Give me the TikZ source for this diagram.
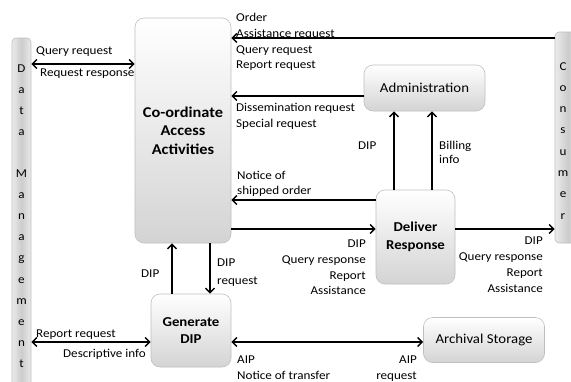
\documentclass[tikz,border=0pt]{standalone}
\usepackage{fontspec}
\setmainfont{Carlito}[FakeStretch=1.09]
\usetikzlibrary{arrows.meta}
\tikzset{
  box/.style={draw=black!25, line width=0.6pt, rounded corners=9pt, inner sep=0pt,
    top color=white, bottom color=black!17, align=center, font=\fontsize{13.6}{18}\selectfont},
  bar/.style={draw=black!25, line width=0.6pt, rounded corners=4pt, inner sep=0pt,
    left color=black!8, right color=black!8, middle color=black!20},
  arr/.style={line width=1.4pt, -{Straight Barb[length=4.5pt,width=9pt]}},
  darr/.style={line width=1.4pt, {Straight Barb[length=4.5pt,width=9pt]}-{Straight Barb[length=4.5pt,width=9pt]}},
  lab/.style={inner sep=0pt, font=\fontsize{12}{15}\selectfont},
}
\begin{document}
\begin{tikzpicture}[x=1pt,y=-1pt]
\clip (0,0) rectangle (571,381);
\useasboundingbox (0,0) rectangle (571,381);
% bars
\node[bar, minimum width=19pt, minimum height=357pt] (data) at (21.5,216.5) {};
\node[bar, minimum width=26pt, minimum height=211pt] (cons) at (568,137.5) {};
\foreach \l [count=\i] in {D,a,t,a,{},M,a,n,a,g,e,m,e,n,t}
  \node[lab, anchor=base] (dl\i) at (21.5,{72+21.1*(\i-1)}) {\l};
\foreach \l [count=\i] in {C,o,n,s,u,m,e,r}
  \node[lab, anchor=base] (cl\i) at (563,{70+21.3*(\i-1)}) {\l};
% boxes
\node[box, minimum width=96pt, minimum height=225pt, font=\fontsize{15}{18.5}\selectfont\bfseries] (caa) at (183,130.5) {Co-ordinate\\Access\\Activities};
\node[box, minimum width=121pt, minimum height=46pt] (admin) at (424.5,88) {Administration};
\node[box, minimum width=79pt, minimum height=94pt, font=\fontsize{13.6}{18}\selectfont\bfseries] (deliver) at (415.5,237) {Deliver\\Response};
\node[box, minimum width=80pt, minimum height=73pt, font=\fontsize{13.6}{17.5}\selectfont\bfseries] (gen) at (191,330.5) {Generate\\DIP};
\node[box, minimum width=121pt, minimum height=45pt] (arch) at (484,340) {Archival Storage};
% levels
\coordinate (ya) at (0,38);
\coordinate (yb) at (0,96);
\coordinate (yc) at (0,64);
\coordinate (yd) at (0,200);
\coordinate (ye) at (0,229);
\coordinate (yf) at (0,342);
\coordinate (xa) at (394,0);
\coordinate (xb) at (432,0);
\coordinate (xc) at (172,0);
\coordinate (xd) at (210,0);
% connectors
\draw[arr] (cons.west |- ya) -- (caa.east |- ya);
\draw[arr] (admin.west |- yb) -- (caa.east |- yb);
\draw[darr] (data.east |- yc) -- (caa.west |- yc);
\draw[arr] (deliver.west |- yd) -- (caa.east |- yd);
\draw[arr] (caa.east |- ye) -- (deliver.west |- ye);
\draw[arr] (deliver.east |- ye) -- (cons.west |- ye);
\draw[arr] (deliver.north -| xa) -- (admin.south -| xa);
\draw[arr] (deliver.north -| xb) -- (admin.south -| xb);
\draw[arr] (gen.north -| xc) -- (caa.south -| xc);
\draw[arr] (caa.south -| xd) -- (gen.north -| xd);
\draw[darr] (data.east |- yf) -- (gen.west |- yf);
\draw[darr] (gen.east |- yf) -- (arch.west |- yf);
% labels
\node[lab, anchor=base west] (l1) at (236,21) {Order};
\node[lab, anchor=base west] (l2) at (236,37) {Assistance request};
\node[lab, anchor=base west] (l3) at (236,53) {Query request};
\node[lab, anchor=base west] (l4) at (236,68) {Report request};
\node[lab, anchor=base west] (l5) at (236,111) {Dissemination request};
\node[lab, anchor=base west] (l6) at (236,127) {Special request};
\node[lab, anchor=base west] (l7) at (36,54) {Query request};
\node[lab, anchor=base west] (l8) at (40,76) {Request response};
\node[lab, anchor=base west] (l9) at (358,149) {DIP};
\node[lab, anchor=base west] (l10) at (439,149) {Billing};
\node[lab, anchor=base west] (l11) at (439,163) {info};
\node[lab, anchor=base west] (l12) at (237,179) {Notice of};
\node[lab, anchor=base west] (l13) at (237,194) {shipped order};
\node[lab, anchor=base east] (l14) at (366,247) {DIP};
\node[lab, anchor=base east] (l15) at (366,263) {Query response};
\node[lab, anchor=base east] (l16) at (366,279) {Report};
\node[lab, anchor=base east] (l17) at (366,294) {Assistance};
\node[lab, anchor=base east] (l18) at (543,244) {DIP};
\node[lab, anchor=base east] (l19) at (543,260) {Query response};
\node[lab, anchor=base east] (l20) at (543,276) {Report};
\node[lab, anchor=base east] (l21) at (543,292) {Assistance};
\node[lab, anchor=base west] (l22) at (141,277) {DIP};
\node[lab, anchor=base west] (l23) at (217,266) {DIP};
\node[lab, anchor=base west] (l24) at (217,284) {request};
\node[lab, anchor=base west] (l25) at (36,337) {Report request};
\node[lab, anchor=base west] (l26) at (63,357) {Descriptive info};
\node[lab, anchor=base west] (l27) at (237,363) {AIP};
\node[lab, anchor=base west] (l28) at (237,379) {Notice of transfer};
\node[lab, anchor=base east] (l29) at (417,363) {AIP};
\node[lab, anchor=base east] (l30) at (417,379) {request};
\end{tikzpicture}
\end{document}
